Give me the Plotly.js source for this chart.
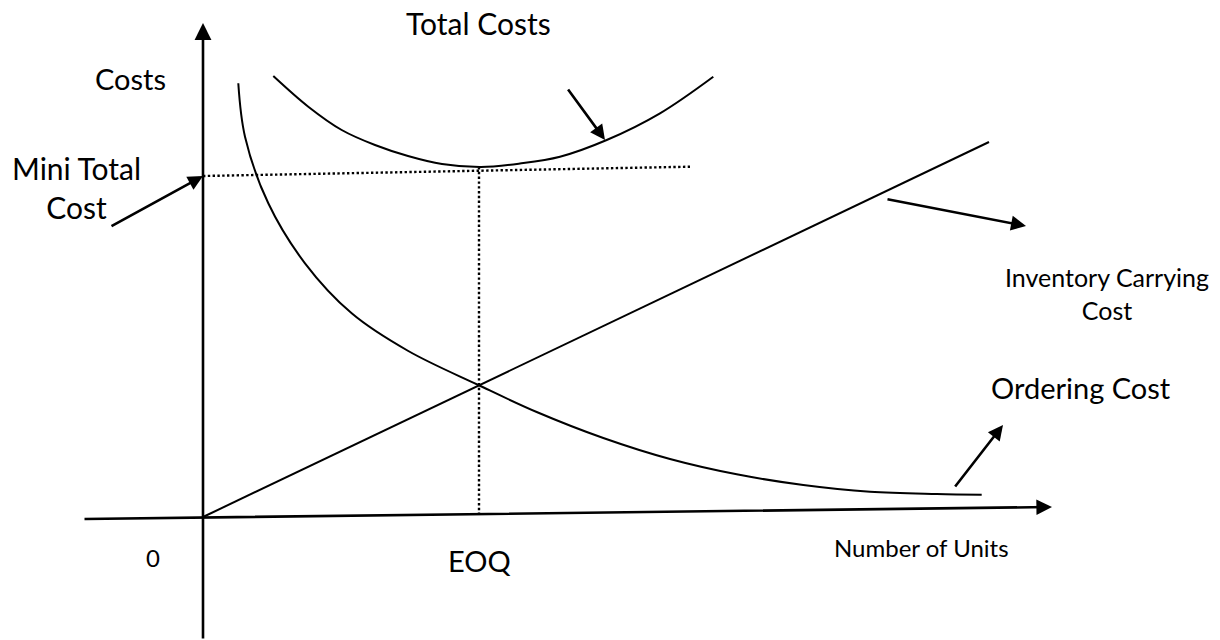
<!DOCTYPE html>
<html>
<head>
<meta charset="utf-8">
<script src="https://cdn.plot.ly/plotly-3.0.1.min.js"></script>
<style>html,body{margin:0;padding:0;background:#fff;}#chart{width:1220px;height:640px;}</style>
</head>
<body>
<div id="chart"></div>
<script>
// Ordering cost curve (falls as units grow)
const orderingX = [35.3, 42, 65.3, 102, 148.7, 205.3, 275.3, 333.7, 400.3, 467, 533.7, 600.3, 667, 733.7, 778.7];
const orderingY = [433.7, 380.3, 313.7, 253.7, 203.7, 166, 132, 105, 79, 58, 42.7, 32, 25.3, 23, 22.3];
// Total cost curve (U shape)
const totalX = [70.3, 105.3, 138.7, 172, 205, 239, 278, 317, 357, 403.7, 457, 510.3];
const totalY = [441, 410.3, 387, 372, 361, 353, 350, 353.5, 360.3, 377, 403.7, 440.3];
// Inventory carrying cost line
const carryX = [0, 786];
const carryY = [0, 375];
// Minimum total cost (horizontal guide) and EOQ (vertical guide)
const minCostX = [0, 487];
const minCostY = [341, 350.3];
const eoqX = [276, 276];
const eoqY = [2, 349];
// Axes (tail -> tip)
const xAxisLine = {x: [-120, 849], y: [-2, 10]};
const yAxisLine = {x: [0, 0], y: [-123, 494]};
// Pointer arrows (tail -> tip)
const pointers = {
  miniTotal: {x: [-93, 0], y: [290, 341]},
  totalCosts: {x: [364, 402], y: [429, 377]},
  carrying: {x: [683, 823], y: [318, 291]},
  ordering: {x: [751, 800], y: [29, 92]}
};
// Labels
const labelText = ["Total Costs", "Costs", "Mini Total<br>Cost", "0", "EOQ", "Number of Units", "Inventory Carrying<br>Cost", "Ordering Cost"];
const labelX = [275, -73, -127, -50, 276, 718, 904, 878];
const labelY = [494, 439, 330, -40, -43, -30, 224, 130];
const labelSize = [30, 29, 30, 24, 29, 24, 25, 29];

const FONT = 'Lato, "Open Sans", sans-serif';
const curveLine = {color: '#000', width: 2, shape: 'spline', smoothing: 1};

const traces = [
  {x: orderingX, y: orderingY, mode: 'lines', line: curveLine, hoverinfo: 'skip'},
  {x: totalX, y: totalY, mode: 'lines', line: curveLine, hoverinfo: 'skip'},
  {x: carryX, y: carryY, mode: 'lines', line: {color: '#000', width: 2}, hoverinfo: 'skip'},
  {x: minCostX, y: minCostY, mode: 'lines', line: {color: '#000', width: 2.4, dash: '2.4px,2.4px'}, hoverinfo: 'skip'},
  {x: eoqX, y: eoqY, mode: 'lines', line: {color: '#000', width: 2.4, dash: '2.4px,2.4px'}, hoverinfo: 'skip'}
];

function arrow(seg, w, size) {
  return {x: seg.x[1], y: seg.y[1], ax: seg.x[0], ay: seg.y[0], axref: 'x', ayref: 'y', xref: 'x', yref: 'y',
    text: '', showarrow: true, arrowhead: 2, arrowsize: size, arrowwidth: w, arrowcolor: '#000', standoff: 0, startstandoff: 0};
}

const annotations = [
  arrow(xAxisLine, 2.6, 1.2),
  arrow(yAxisLine, 2.6, 1.3),
  arrow(pointers.miniTotal, 2.6, 1.15),
  arrow(pointers.totalCosts, 2.6, 1.15),
  arrow(pointers.carrying, 2.6, 1.15),
  arrow(pointers.ordering, 2.6, 1.15)
];
labelText.forEach((t, i) => {
  annotations.push({x: labelX[i], y: labelY[i], xref: 'x', yref: 'y', text: t, showarrow: false,
    xanchor: 'center', yanchor: 'middle', align: 'center', font: {family: FONT, size: labelSize[i], color: '#000'}});
});

const layout = {
  width: 1220, height: 640,
  margin: {l: 0, r: 0, t: 0, b: 0, pad: 0},
  paper_bgcolor: '#fff', plot_bgcolor: '#fff',
  showlegend: false,
  xaxis: {range: [-203, 1017], visible: false, fixedrange: true},
  yaxis: {range: [-123, 517], visible: false, fixedrange: true},
  annotations: annotations
};

Plotly.newPlot('chart', traces, layout, {displayModeBar: false, staticPlot: true});
</script>
</body>
</html>
